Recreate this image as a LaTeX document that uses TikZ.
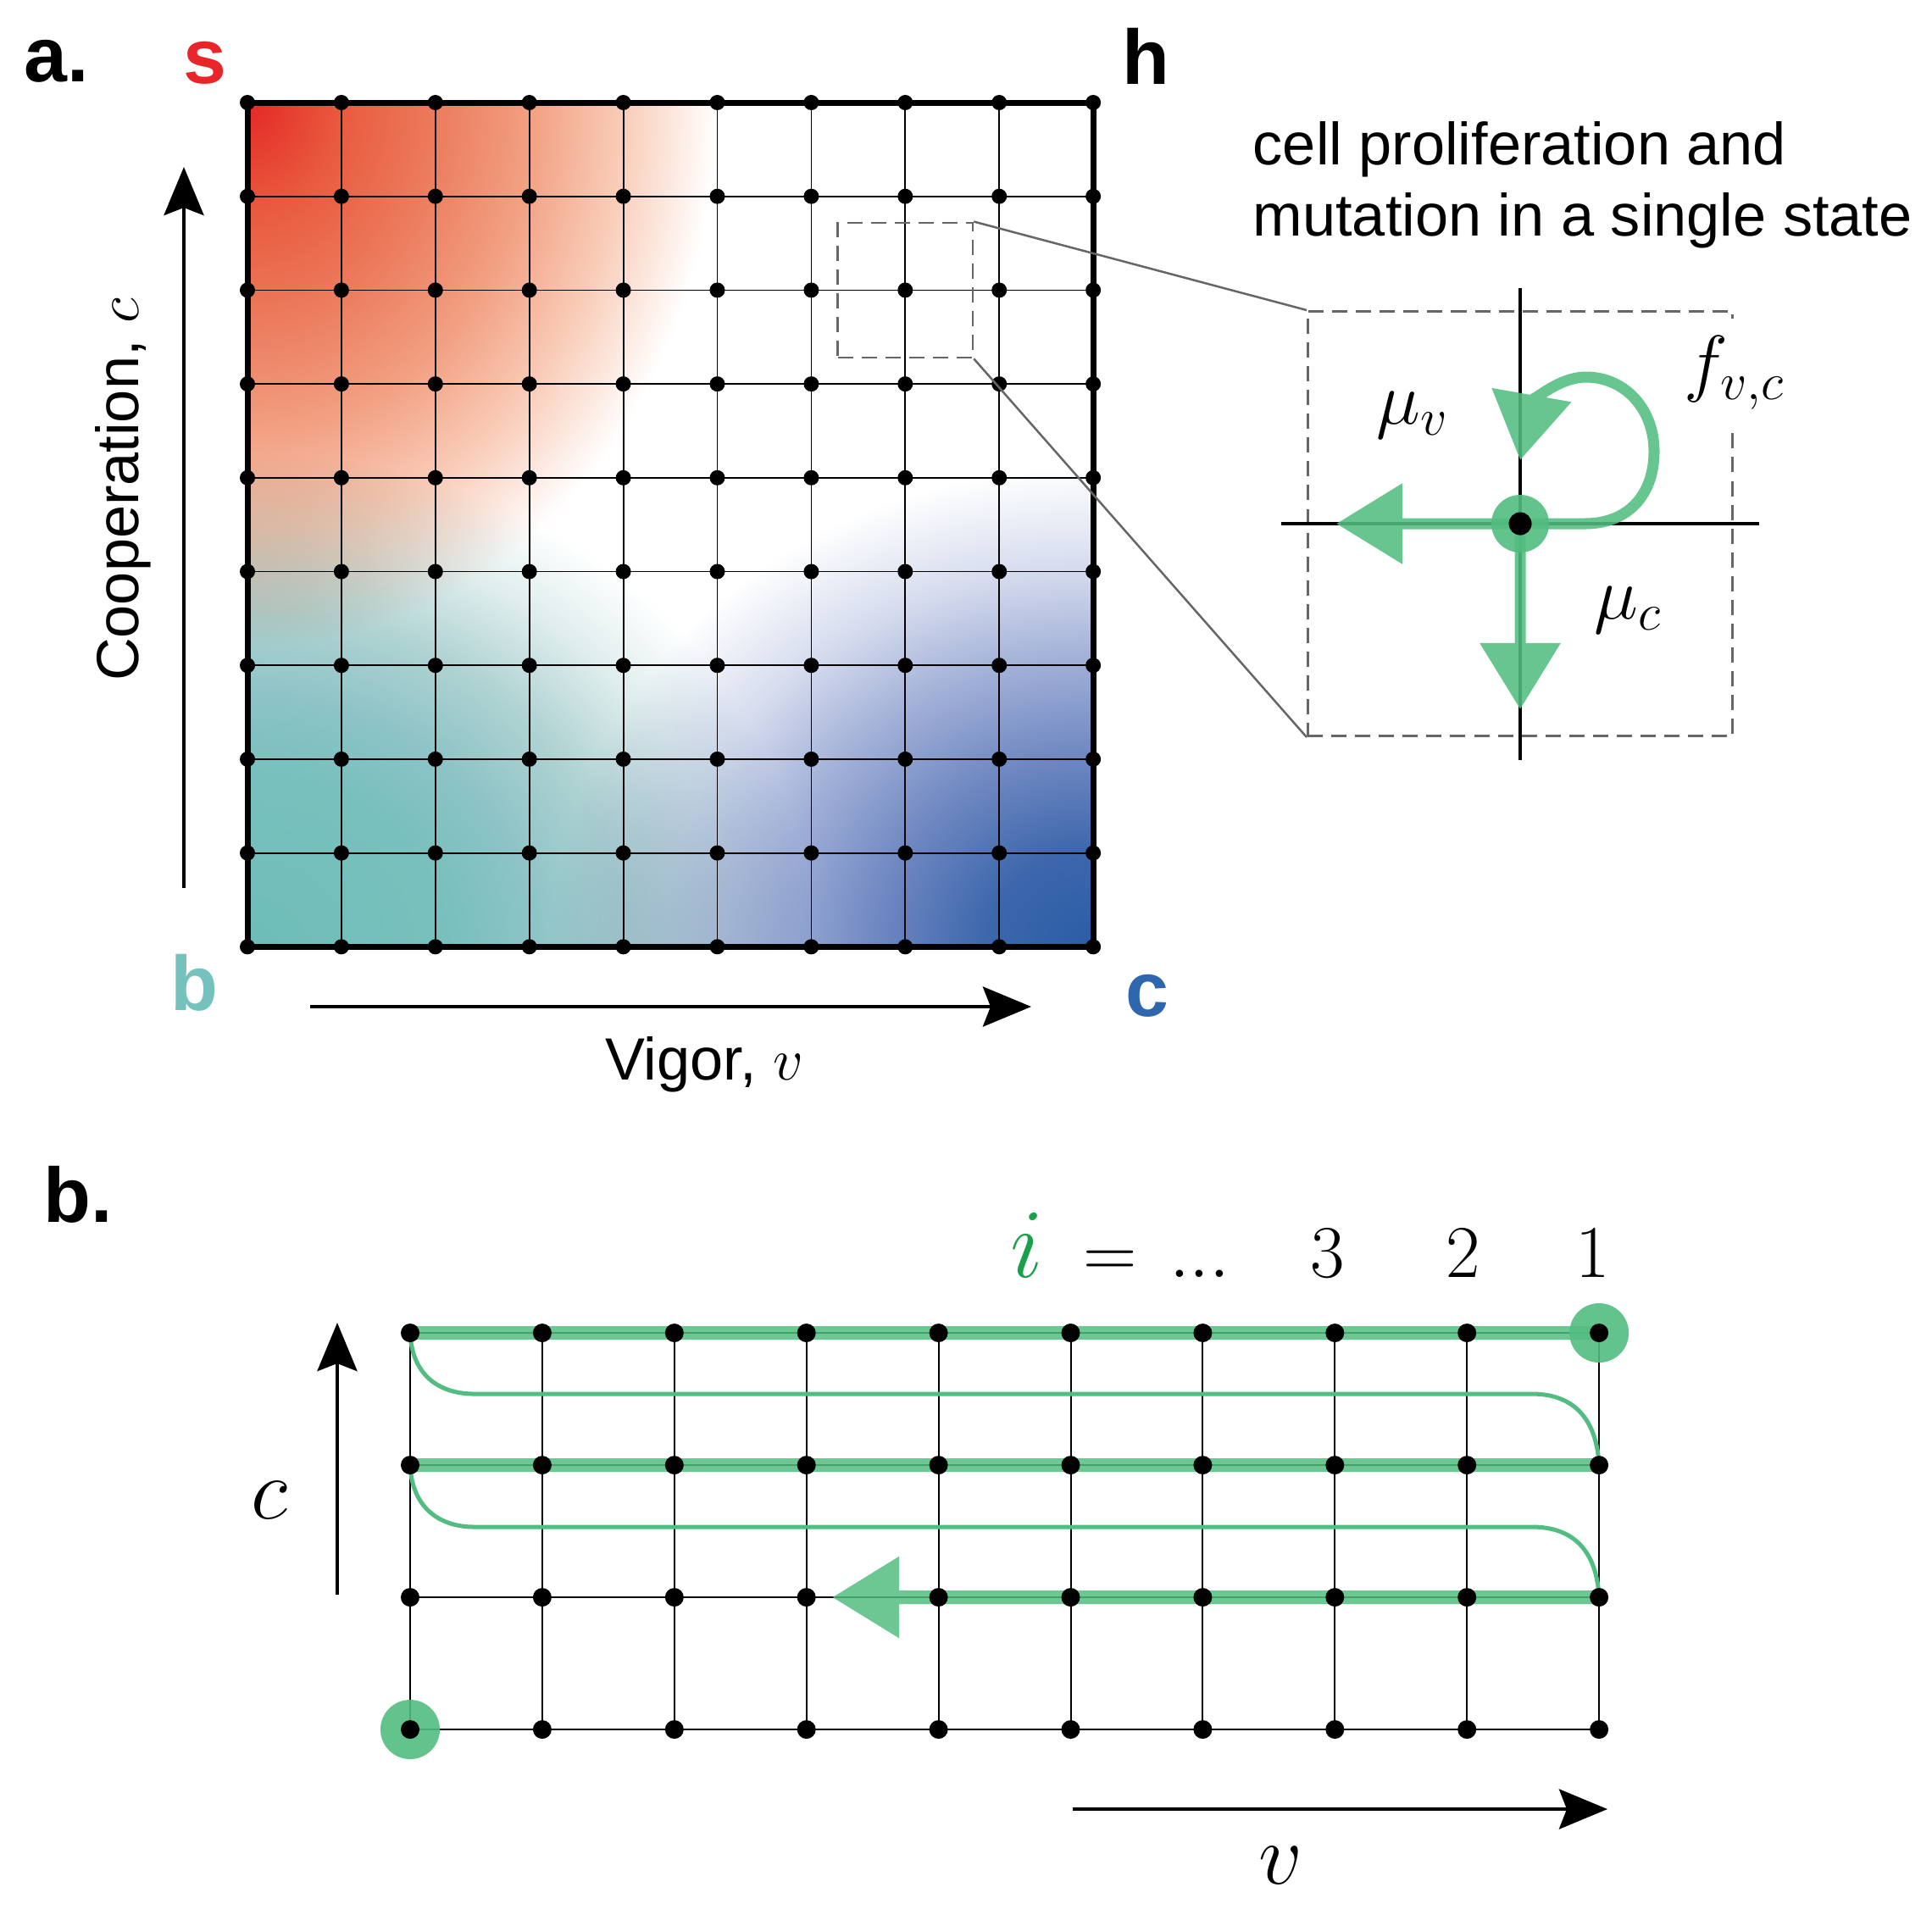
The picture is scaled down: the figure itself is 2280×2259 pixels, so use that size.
\RequirePackage{fix-cm}
\documentclass[tikz,border=0pt]{standalone}
\usepackage{amsmath}
\usepackage{fontspec}
\usetikzlibrary{arrows.meta,positioning}
\newfontfamily\helv{Liberation Sans}
\definecolor{sred}{RGB}{228,40,38}
\definecolor{sredA}{RGB}{233,90,62}
\definecolor{sredB}{RGB}{236,122,92}
\definecolor{sredC}{RGB}{242,160,130}
\definecolor{sredD}{RGB}{249,205,185}
\definecolor{bteal}{RGB}{110,189,184}
\definecolor{btealA}{RGB}{120,192,189}
\definecolor{btealB}{RGB}{140,195,198}
\definecolor{btealC}{RGB}{175,210,210}
\definecolor{btealD}{RGB}{225,238,238}
\definecolor{cblue}{RGB}{42,93,165}
\definecolor{cblueA}{RGB}{61,103,172}
\definecolor{cblueB}{RGB}{110,135,193}
\definecolor{cblueC}{RGB}{160,175,215}
\definecolor{cblueD}{RGB}{214,220,238}
\definecolor{slabel}{RGB}{232,38,42}
\definecolor{blabel}{RGB}{117,194,188}
\definecolor{clabel}{RGB}{46,103,174}
\definecolor{pgreen}{RGB}{82,189,128}
\definecolor{igreen}{RGB}{26,160,76}
\definecolor{boxgray}{RGB}{102,102,102}
\pgfdeclareradialshading{sfade}{\pgfpointorigin}{color(0bp)=(sred);color(4.75bp)=(sredA);color(9.5bp)=(sredB);color(14.5bp)=(sredC);color(19.25bp)=(sredD);color(24bp)=(white);color(50bp)=(white)}
\pgfdeclareradialshading{bfade}{\pgfpointorigin}{color(0bp)=(bteal);color(8.75bp)=(btealA);color(12.5bp)=(btealB);color(16.75bp)=(btealC);color(21.25bp)=(btealD);color(25bp)=(white);color(50bp)=(white)}
\pgfdeclareradialshading{cfade}{\pgfpointorigin}{color(0bp)=(cblue);color(4.8bp)=(cblueA);color(9.5bp)=(cblueB);color(14.3bp)=(cblueC);color(19bp)=(cblueD);color(24bp)=(white);color(50bp)=(white)}

\begin{document}
\begin{tikzpicture}[x=0.01cm,y=-0.01cm,
adot/.style={circle,fill=black,inner sep=0pt,minimum size=0.18cm},
bdot/.style={circle,fill=black,inner sep=0pt,minimum size=0.22cm},
lbl/.style={font=\helv\bfseries\fontsize{26}{30}\selectfont,inner sep=0pt,anchor=base west},
txt/.style={font=\helv\fontsize{20}{24}\selectfont,inner sep=0pt},
mth/.style={font=\fontsize{25}{30}\selectfont,inner sep=0pt},
ax/.style={-{Stealth[length=0.57cm,width=0.47cm,inset=0.09cm]},line width=0.045cm},
zbox/.style={draw=boxgray,dash pattern=on 0.18cm off 0.1cm,line width=0.027cm,inner sep=0pt},
zlink/.style={draw=boxgray,line width=0.025cm},
gring/.style={circle,fill=pgreen,fill opacity=0.9,inner sep=0pt},
gbar/.style={draw=pgreen,line width=0.16cm},
gline/.style={draw=pgreen,line width=0.05cm},
garr/.style={-{Triangle[length=0.78cm,width=0.92cm]},draw=pgreen,line width=0.13cm}]
\useasboundingbox(0,0)rectangle(2280,2259);

\foreach \i in {0,...,9}{\foreach \j in {0,...,9}{\coordinate(a\i\j)at(292+110.9*\i,121+110.7*\j);}}
\begin{scope}
\clip(a00)rectangle(a99);
\begin{scope}[blend mode=multiply]
\shade[shading=sfade](a00)ellipse[x radius=5.77cm,y radius=6.7cm];
\shade[shading=bfade](a09)ellipse[x radius=6.66cm,y radius=5.85cm];
\shade[shading=cfade](a99)ellipse[x radius=6.66cm,y radius=5.9cm];
\end{scope}
\end{scope}
\foreach \k in {1,...,8}{\draw[line width=0.018cm](a\k0)--(a\k9);\draw[line width=0.018cm](a0\k)--(a9\k);}
\draw[line width=0.07cm](a00)rectangle(a99);
\foreach \i in {0,...,9}{\foreach \j in {0,...,9}{\node[adot](da\i\j)at(a\i\j){};}}

\node[lbl](pa)at(28,96){a.};
\node[lbl,text=slabel](ls)at(216,98){s};
\node[lbl](lh)at(1324,99){h};
\node[lbl,text=blabel](lb)at(201,1192){b};
\node[lbl,text=clabel](lc)at(1328,1199){c};
\coordinate(cylo)at(217,1048);\coordinate(cyhi)at(217,197);
\draw[ax](cylo)--(cyhi);
\node[txt,rotate=90](coop)at(145,578){Cooperation, $c$};
\coordinate(vxlo)at(366,1188);\coordinate(vxhi)at(1217,1188);
\draw[ax](vxlo)--(vxhi);
\node[txt](vig)at(831,1256){Vigor, $v$};

\node[txt,anchor=base west](cellA)at(1478,194){cell proliferation and};
\node[txt,anchor=base west](cellB)at(1478,278){mutation in a single state};
\node[zbox,minimum size=1.59cm](zs)at(a72){};
\node[zbox,minimum size=5.01cm](zb)at(1794,618){};
\draw[zlink](zs.north east)--(zb.north west);
\draw[zlink](zs.south east)--(zb.south west);
\draw[line width=0.045cm](1512,618)--(2076,618);
\draw[line width=0.045cm](1794,340)--(1794,897);
\node[gring,minimum size=0.68cm](hring)at(1794,618){};
\node[circle,fill=black,inner sep=0pt,minimum size=0.27cm](hc)at(1794,618){};
\coordinate(muvtip)at(1577,618);\coordinate(muctip)at(1794,837);\coordinate(ftip)at(1794,543);
\begin{scope}[transparency group,opacity=0.88]
\draw[garr](hc)--(muvtip);
\draw[garr](hc)--(muctip);
\draw[garr](hc)--(1870,618)..controls(1925,618)and(1952,580)..(1952,533)..controls(1952,480)and(1915,445)..(1872,445)..controls(1835,445)and(1805,480)..(ftip);
\end{scope}
\node[mth](muv)at(1667,490){$\mu_v$};
\node[mth](muc)at(1921,720){$\mu_c$};
\node[mth,fill=white,inner sep=6pt](fvc)at(2047,440){$f_{v,c}$};

\node[lbl](pb)at(51,1442){b.};
\foreach \i in {0,...,9}{\foreach \j in {0,...,3}{\coordinate(b\i\j)at(484+155.9*\i,1573+156*\j);}}
\foreach \i in {0,...,9}{\draw[line width=0.02cm](b\i0)--(b\i3);}
\foreach \j in {0,...,3}{\draw[line width=0.02cm](b0\j)--(b9\j);}
\node[gring,minimum size=0.7cm](gstart)at(b90){};
\node[gring,minimum size=0.7cm](gend)at(b03){};
\coordinate(btip)at(982,1885);
\begin{scope}[transparency group,opacity=0.85]
\draw[gbar](b00)--(b90);
\draw[gbar](b01)--(b91);
\draw[gbar,-{Triangle[length=0.79cm,width=0.92cm]}](b92)--(btip);
\end{scope}
\draw[gline](b00)..controls(486,1620)and(515,1645)..(560,1645)--(1808,1645)..controls(1855,1645)and(1884,1672)..(b91);
\draw[gline](b01)..controls(486,1776)and(515,1802)..(560,1802)--(1808,1802)..controls(1855,1802)and(1884,1828)..(b92);
\foreach \i in {0,...,9}{\foreach \j in {0,...,3}{\node[bdot](db\i\j)at(b\i\j){};}}
\node[mth,anchor=base,text=igreen,font=\fontsize{33}{38}\selectfont](ilab)at(1212,1507){$i$};
\node[mth,anchor=base](eqlab)at(1310,1507){$=$};
\node[mth,anchor=base](dotlab)at(1416,1507){$...$};
\node[mth,anchor=base](nthree)at(1567,1507){$3$};
\node[mth,anchor=base](ntwo)at(1727,1507){$2$};
\node[mth,anchor=base](none)at(1880,1507){$1$};
\coordinate(bclo)at(398,1882);\coordinate(bchi)at(398,1561);
\draw[ax](bclo)--(bchi);
\node[mth,font=\fontsize{29}{34}\selectfont](bc)at(318,1770){$c$};
\coordinate(bvlo)at(1266,2135);\coordinate(bvhi)at(1897,2135);
\draw[ax](bvlo)--(bvhi);
\node[mth,font=\fontsize{29}{34}\selectfont](bv)at(1511,2201){$v$};
\end{tikzpicture}
\end{document}
